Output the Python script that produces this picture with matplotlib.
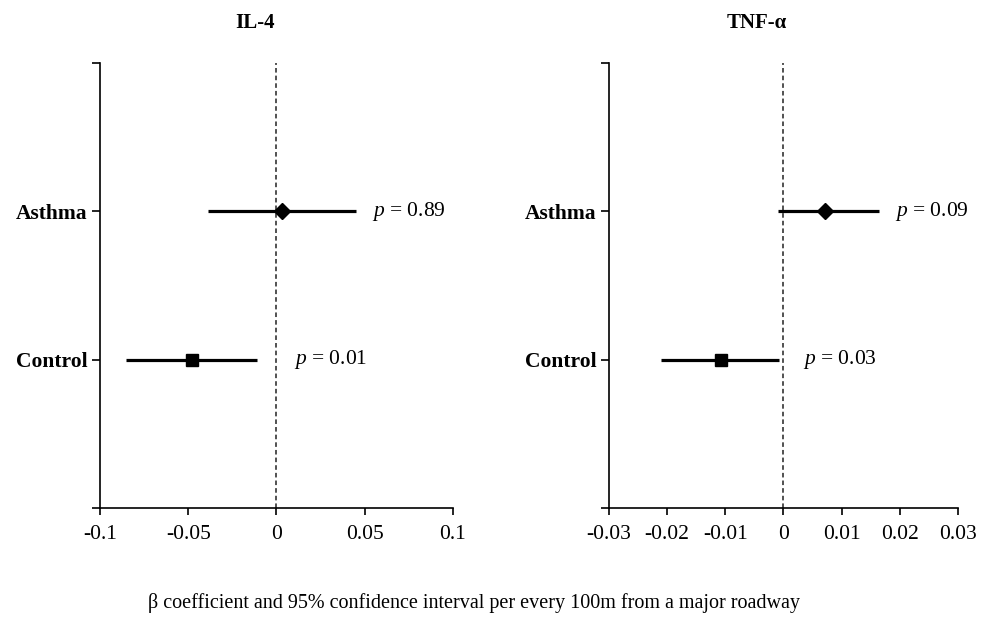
import matplotlib
matplotlib.use('Agg')
import matplotlib.pyplot as plt

plt.rcParams['font.family'] = ['Liberation Serif', 'DejaVu Serif']
plt.rcParams['mathtext.fontset'] = 'custom'
plt.rcParams['mathtext.it'] = 'Liberation Serif:italic'
plt.rcParams['mathtext.rm'] = 'Liberation Serif'

groups = ['Control', 'Asthma']
group_pos = [1, 2]
markers = ['s', 'D']

il4_beta = [-0.048, 0.0034]
il4_low = [-0.0855, -0.039]
il4_high = [-0.0108, 0.045]
il4_p = ['0.01', '0.89']
il4_p_x = [0.010, 0.054]
il4_ticks = [-0.1, -0.05, 0, 0.05, 0.1]
il4_ticklabels = ['-0.1', '-0.05', '0', '0.05', '0.1']

tnf_beta = [-0.0108, 0.0072]
tnf_low = [-0.021, -0.001]
tnf_high = [-0.0007, 0.0165]
tnf_p = ['0.03', '0.09']
tnf_p_x = [0.0033, 0.0192]
tnf_ticks = [-0.03, -0.02, -0.01, 0, 0.01, 0.02, 0.03]
tnf_ticklabels = ['-0.03', '-0.02', '-0.01', '0', '0.01', '0.02', '0.03']

xlabel = '\u03b2 coefficient and 95% confidence interval per every 100m from a major roadway'


def forest(ax, beta, low, high, pvals, px, ticks, ticklabels):
    ax.axvline(0, color='#222222', ls=(0, (3, 2)), lw=1.1, zorder=1)
    for y, b, lo, hi, m, p, x in zip(group_pos, beta, low, high, markers, pvals, px):
        ax.plot([lo, hi], [y, y], color='black', lw=2.3, solid_capstyle='butt', zorder=2)
        ax.plot(b, y, marker=m, color='black', markersize=9 if m == 's' else 8, zorder=3)
        ax.text(x, y, '$p$ = ' + p, fontsize=15.5, va='center', ha='left')
    ax.set_xlim(ticks[0], ticks[-1])
    ax.set_ylim(0, 3)
    ax.set_xticks(ticks)
    ax.set_xticklabels(ticklabels, fontsize=15.5)
    ax.set_yticks([0, 1, 2, 3])
    ax.set_yticklabels(['', groups[0], groups[1], ''], fontsize=15.5, fontweight='bold')
    for s in ['top', 'right']:
        ax.spines[s].set_visible(False)
    for s in ['left', 'bottom']:
        ax.spines[s].set_linewidth(1.2)
    ax.tick_params(axis='y', length=6, width=1.2, pad=3)
    ax.tick_params(axis='x', length=5, width=1.2, pad=7)


fig = plt.figure(figsize=(9.88, 6.18), dpi=100)
ax1 = fig.add_axes([0.1012, 0.178, 0.3573, 0.720])
ax2 = fig.add_axes([0.6164, 0.178, 0.3532, 0.720])

forest(ax1, il4_beta, il4_low, il4_high, il4_p, il4_p_x, il4_ticks, il4_ticklabels)
forest(ax2, tnf_beta, tnf_low, tnf_high, tnf_p, tnf_p_x, tnf_ticks, tnf_ticklabels)

fig.text(255 / 988, 1 - 23 / 618, 'IL-4', fontsize=15, fontweight='bold', ha='center', va='center')
fig.text(757 / 988, 1 - 23 / 618, 'TNF-\u03b1', fontsize=15, fontweight='bold', ha='center', va='center')
fig.text(474 / 988, 1 - 603 / 618, xlabel, fontsize=14.5, ha='center', va='center')

fig.savefig('out.png', dpi=100)
